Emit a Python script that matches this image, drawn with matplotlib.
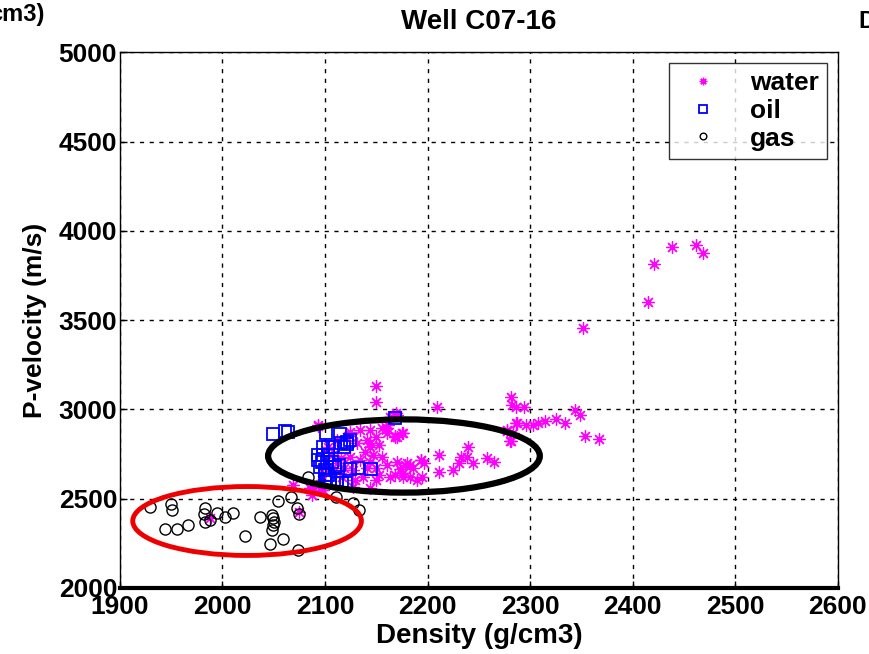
import matplotlib
matplotlib.use("Agg")
import matplotlib.pyplot as plt
from matplotlib.patches import Ellipse

plt.rcParams['font.family'] = ['Liberation Sans', 'DejaVu Sans']
plt.rcParams['font.weight'] = 'bold'

# density (g/cm3) / P-velocity (m/s) pairs per fluid
water_density = [
    2150, 2150, 2093, 2169, 2163, 2160, 2170,
    2209, 2281, 2282, 2286, 2286, 2170, 2176, 2168, 2277, 2283, 2281,
    2211, 2239, 2233, 2238, 2244, 2258, 2265, 2231, 2225, 2211, 2194,
    2197, 2183, 2178, 2183, 2176, 2168, 2173,
    2294, 2344, 2349, 2287, 2296, 2303, 2308, 2315, 2325, 2334, 2354,
    2367, 2277, 2280,
    2093, 2124, 2134, 2144, 2156, 2161, 2175, 2168, 2160, 2150, 2141,
    2131, 2144, 2153, 2139, 2147, 2156, 2144, 2134, 2124, 2116, 2112,
    2107, 2160, 2170, 2180, 2186, 2194, 2176, 2163, 2153, 2150, 2137,
    2129, 2117, 2108, 2098, 2097, 2088, 2144, 2127, 2190, 2195, 2121,
    2112, 2103, 2127, 2119, 2141, 2150, 2144, 2085, 2098,
    1988, 2075, 2069, 2087, 2095,
    2352, 2415, 2421, 2438, 2462, 2469,
]
water_velocity = [
    3131, 3041, 2907, 2980, 2960, 2896, 2846,
    3013, 3069, 3025, 3013, 2924, 2969, 2868, 2851, 2879, 2868, 2823,
    2745, 2790, 2734, 2734, 2700, 2728, 2706, 2700, 2661, 2650, 2717,
    2700, 2689, 2689, 2622, 2622, 2633, 2667,
    3013, 2997, 2969, 2924, 2913, 2913, 2924, 2935, 2946, 2924, 2851,
    2834, 2885, 2823,
    2913, 2874, 2885, 2885, 2896, 2913, 2868, 2846, 2868, 2846, 2829,
    2812, 2790, 2801, 2762, 2745, 2734, 2706, 2717, 2734, 2728, 2700,
    2745, 2689, 2706, 2700, 2672, 2717, 2644, 2622, 2633, 2605, 2622,
    2605, 2622, 2650, 2678, 2605, 2566, 2560, 2566, 2605, 2622, 2846,
    2829, 2790, 2661, 2672, 2672, 2672, 2812, 2560, 2549,
    2392, 2426, 2577, 2521, 2549,
    3455, 3601, 3814, 3909, 3920, 3875,
]

oil_density = [
    2049, 2061, 2064, 2101, 2115, 2124, 2121, 2119, 2168,
    2124, 2132, 2145, 2110, 2101, 2112, 2120, 2103,
    2098, 2103, 2108, 2093, 2098, 2103, 2093, 2097, 2102, 2107,
    2095, 2100, 2110, 2114, 2100, 2105, 2112, 2117, 2121, 2116,
]
oil_velocity = [
    2862, 2879, 2874, 2868, 2862, 2829, 2806, 2790, 2952,
    2667, 2672, 2667, 2678, 2605, 2605, 2588, 2633,
    2790, 2790, 2790, 2745, 2745, 2745, 2717, 2706, 2706, 2706,
    2678, 2661, 2678, 2689, 2633, 2605, 2588, 2588, 2818, 2812,
]

gas_density = [
    1929, 1950, 1951, 1944, 1956, 1966, 1983, 1982, 1983, 1988, 1995,
    2002, 2010, 2022, 2037, 2048, 2049, 2050, 2049, 2048, 2046, 2059,
    2054, 2067, 2073, 2075, 2074, 2111, 2127, 2133, 2083,
]
gas_velocity = [
    2454, 2471, 2437, 2331, 2331, 2353, 2448, 2415, 2370, 2381, 2420,
    2398, 2420, 2292, 2398, 2409, 2392, 2370, 2353, 2325, 2247, 2275,
    2487, 2510, 2448, 2415, 2213, 2510, 2476, 2437, 2622,
]

# highlight ellipses: (centre x, centre y, width, height)
oil_zone = (2177, 2739, 265, 410)
gas_zone = (2024, 2375, 223, 386)

fig = plt.figure(figsize=(8.69, 6.54), dpi=100)
ax = fig.add_axes([0.138, 0.101, 0.826, 0.819])

ax.plot(water_density, water_velocity, linestyle='none', marker=(8, 2, 0),
        markersize=9, markeredgewidth=0.9, color='#ff00ff', label='water')
ax.plot(oil_density, oil_velocity, linestyle='none', marker='s',
        markersize=9, markeredgewidth=1.3, markerfacecolor='none',
        markeredgecolor='#0000ff', label='oil')
ax.plot(gas_density, gas_velocity, linestyle='none', marker='o',
        markersize=8, markeredgewidth=1.0, markerfacecolor='none',
        markeredgecolor='black', label='gas')

ax.add_patch(Ellipse(oil_zone[:2], oil_zone[2], oil_zone[3],
                     fill=False, edgecolor='black', linewidth=4.5, zorder=4))
ax.add_patch(Ellipse(gas_zone[:2], gas_zone[2], gas_zone[3],
                     fill=False, edgecolor='#ee0000', linewidth=3.5, zorder=4))

ax.set_xlim(1900, 2600)
ax.set_ylim(2000, 5000)
ax.set_xticks(range(1900, 2601, 100))
ax.set_yticks(range(2000, 5001, 500))
ax.grid(True, color='black', linestyle=(0, (3, 4)), linewidth=1.0)
ax.tick_params(direction='in', length=5, width=1, labelsize=19)
ax.tick_params(axis='x', pad=5)
ax.tick_params(axis='y', pad=2)
for lbl in ax.get_xticklabels() + ax.get_yticklabels():
    lbl.set_fontweight('bold')

for side in ['top', 'right', 'left']:
    ax.spines[side].set_linewidth(1.0)
ax.spines['bottom'].set_linewidth(3.0)

ax.set_title('Well C07-16', fontsize=20, fontweight='bold', pad=17)
ax.set_xlabel('Density (g/cm3)', fontsize=20, fontweight='bold', labelpad=3)
ax.set_ylabel('P-velocity (m/s)', fontsize=19, fontweight='bold', labelpad=8)

leg = ax.legend(loc='upper right', fontsize=19, frameon=True, fancybox=False,
                edgecolor='black', handletextpad=0.8, borderpad=0.3,
                labelspacing=0.15, markerscale=0.6, borderaxespad=0.4)
leg.get_frame().set_linewidth(1.0)
for t in leg.get_texts():
    t.set_fontweight('bold')

# fragments of neighbouring panels at the edges
fig.text(-0.012, 0.995, 'cm3)', fontsize=17, fontweight='bold', va='top')
fig.text(0.988, 0.985, 'D', fontsize=17, fontweight='bold', va='top')

fig.savefig('out.png', dpi=100)
